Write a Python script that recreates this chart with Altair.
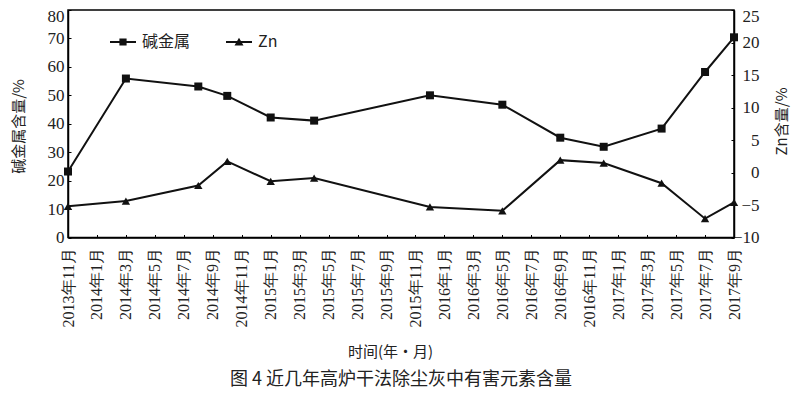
import altair as alt
import pandas as pd

# ---- data ----
dates = ["2013-11", "2014-03", "2014-08", "2014-10", "2015-01", "2015-04", "2015-12",
         "2016-05", "2016-09", "2016-12", "2017-04", "2017-07", "2017-09"]
alkali = [23.2, 55.9, 53.1, 49.8, 42.2, 41.1, 50.0, 46.7, 35.1, 31.9, 38.3, 58.2, 70.4]
zn = [-5.2, -4.4, -2.0, 1.7, -1.35, -0.85, -5.3, -5.9, 1.9, 1.45, -1.65, -7.1, -4.6]
series = ["碱金属", "Zn"]
x_ticks = list(range(0, 47, 2))          # every two months, 2013-11 .. 2017-09
left_ticks = [0, 10, 20, 30, 40, 50, 60, 70, 80]
right_ticks = [-10, -5, 0, 5, 10, 15, 20, 25]


def month_index(s):
    y, m = map(int, s.split("-"))
    return (y - 2013) * 12 + (m - 11)


df = pd.DataFrame({"t": [month_index(d) for d in dates], "alkali": alkali, "zn": zn})
legend_df = pd.DataFrame({"series": series})

NUM_FONT = "Liberation Serif"
CJK_FONT = "Noto Sans CJK SC"
TXT = "#222222"
INWARD = {"expr": "-3"}

x_enc = alt.X(
    "t:Q",
    scale=alt.Scale(domain=[0, 46], nice=False, zero=False),
    axis=alt.Axis(
        values=x_ticks,
        labelExpr="(2013 + floor((datum.value + 10) / 12)) + '年' + ((datum.value + 10) % 12 + 1) + '月'",
        labelAngle=-90,
        labelFont=NUM_FONT,
        labelFontSize=16,
        labelColor=TXT,
        labelPadding=13,
        tickSize=INWARD,
        tickColor="black",
        domainColor="black",
        domainWidth=1.5,
        grid=False,
        title="时间(年・月)",
        titleFont=CJK_FONT,
        titleFontSize=15,
        titleFontWeight="normal",
        titleColor=TXT,
        titleX=322,
        titleY=114,
        titleBaseline="middle",
        titleAlign="center",
        labelFlush=False,
        labelOverlap=False,
    ),
)

left_axis = alt.Axis(
    values=left_ticks,
    labelFont=NUM_FONT,
    labelFontSize=17,
    labelColor=TXT,
    labelPadding=7,
    labelOffset={"condition": {"test": "datum.value == 80", "value": 6}, "value": 0},
    tickSize=INWARD,
    tickColor="black",
    domainColor="black",
    domainWidth=1.5,
    grid=False,
    title="碱金属含量/%",
    titleFont=CJK_FONT,
    titleFontSize=15,
    titleFontWeight="normal",
    titleColor=TXT,
    titleAngle=270,
    titleX=-50,
    titleY=116,
    titleBaseline="middle",
    titleAlign="center",
)

right_axis = alt.Axis(
    orient="right",
    values=right_ticks,
    labelFont=NUM_FONT,
    labelFontSize=17,
    labelColor=TXT,
    labelAlign="right",
    labelPadding=28,
    labelOffset={"condition": {"test": "datum.value == 25", "value": 6}, "value": 0},
    tickSize=INWARD,
    tickColor="black",
    domainColor="black",
    domainWidth=1.5,
    grid=False,
    title="Zn含量/%",
    titleFont=CJK_FONT,
    titleFontSize=15,
    titleFontWeight="normal",
    titleColor=TXT,
    titleAngle=270,
    titleX=47,
    titleY=111,
    titleBaseline="middle",
    titleAlign="center",
)

y_left = alt.Y("alkali:Q", scale=alt.Scale(domain=[0, 80], nice=False), axis=left_axis)
y_right = alt.Y("zn:Q", scale=alt.Scale(domain=[-10, 25], nice=False), axis=right_axis)

base = alt.Chart(df)

alk_layer = alt.layer(
    base.mark_line(color="#111111", strokeWidth=2).encode(x=x_enc, y=y_left),
    base.mark_point(shape="square", filled=True, color="#111111", size=64, opacity=1).encode(x=x_enc, y=y_left),
)

zn_layer = alt.layer(
    base.mark_line(color="#111111", strokeWidth=2).encode(x=x_enc, y=y_right),
    base.mark_point(shape="triangle-up", filled=True, color="#111111", size=70, opacity=1).encode(x=x_enc, y=y_right),
)

legend_layer = alt.Chart(legend_df).transform_filter("false").mark_point(
    filled=True, color="#111111", opacity=1
).encode(
    shape=alt.Shape(
        "series:N",
        scale=alt.Scale(
            domain=series,
            range=[
                "M-1.3,-0.1H1.3V0.1H-1.3Z M-0.36,-0.36H0.36V0.36H-0.36Z",
                "M-1.3,-0.1H1.3V0.1H-1.3Z M0,-0.42L0.45,0.36H-0.45Z",
            ],
        ),
        legend=alt.Legend(
            title=None,
            orient="none",
            legendX=45,
            legendY=22,
            direction="horizontal",
            symbolSize=400,
            symbolStrokeWidth=0,
            symbolFillColor="#111111",
            labelFont=CJK_FONT,
            labelFontSize=16,
            labelColor=TXT,
            labelOffset=9,
            columnPadding=35,
            padding=0,
        ),
    )
)

chart = (
    alt.layer(alk_layer, zn_layer, legend_layer)
    .resolve_scale(y="independent")
    .properties(
        width=666,
        height=227.5,
        autosize=alt.AutoSizeParams(type="none"),
        padding={"left": 60, "top": 2, "right": 58, "bottom": 151.5},
        title=alt.TitleParams(
            text="图 4  近几年高炉干法除尘灰中有害元素含量",
            orient="bottom",
            anchor="middle",
            font=CJK_FONT,
            fontSize=18,
            fontWeight="normal",
            color=TXT,
            offset=11,
        ),
        background="white",
    )
    .configure_view(stroke="black", strokeWidth=1.5)
)

chart.save("out.html", embed_options={"renderer": "svg", "actions": False})
